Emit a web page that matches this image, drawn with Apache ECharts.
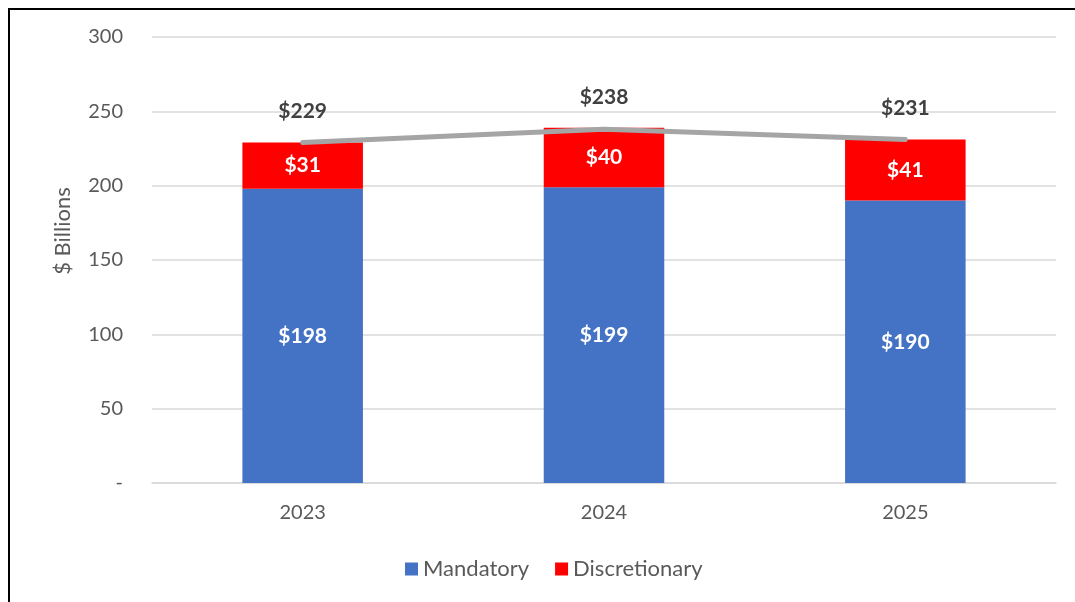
<!DOCTYPE html>
<html>
<head>
<meta charset="utf-8">
<script src="https://cdn.jsdelivr.net/npm/echarts@6/dist/echarts.min.js"></script>
<style>
  html, body { margin: 0; padding: 0; background: #fff; }
  #chart { width: 1075px; height: 602px; }
</style>
</head>
<body>
<div id="chart"></div>
<script>
var years = ["2023", "2024", "2025"];
var mandatory = [198, 199, 190];
var discretionary = [31, 40, 41];
var totals = [229, 238, 231];

var textGray = "#595959";
var font = "Lato";

var chart = echarts.init(document.getElementById("chart"));
var option = {
  animation: false,
  textStyle: { fontFamily: font },
  grid: { left: 152, right: 19, top: 37, bottom: 119 },
  legend: {
    bottom: 17,
    left: 400,
    itemWidth: 13,
    itemHeight: 13,
    itemGap: 26,
    icon: "rect",
    textStyle: { fontSize: 22, color: textGray, fontFamily: font },
    data: ["Mandatory", "Discretionary"]
  },
  xAxis: {
    type: "category",
    data: years,
    axisTick: { show: false },
    axisLine: { lineStyle: { color: "#D9D9D9", width: 1.5 } },
    axisLabel: { fontSize: 20, color: textGray, margin: 20 }
  },
  yAxis: {
    type: "value",
    min: 0,
    max: 300,
    interval: 50,
    name: "$ Billions",
    nameLocation: "middle",
    nameGap: 78,
    nameTextStyle: { fontSize: 22, color: textGray, padding: [0, 0, 0, 58] },
    axisLine: { show: false },
    axisTick: { show: false },
    axisLabel: {
      fontSize: 20,
      color: textGray,
      margin: 29,
      formatter: function (v) { return v === 0 ? "-" : v; }
    },
    splitLine: { lineStyle: { color: "#D9D9D9", width: 1.5 } }
  },
  series: [
    {
      name: "Mandatory",
      type: "bar",
      stack: "total",
      barWidth: "40%",
      data: mandatory,
      itemStyle: { color: "#4472C4" },
      label: {
        show: true,
        position: "inside",
        color: "#fff",
        fontSize: 21,
        fontWeight: "bold",
        formatter: function (p) { return "$" + p.value; }
      }
    },
    {
      name: "Discretionary",
      type: "bar",
      stack: "total",
      barWidth: "40%",
      data: discretionary,
      itemStyle: { color: "#FF0000" },
      label: {
        show: true,
        position: "inside",
        color: "#fff",
        fontSize: 21,
        fontWeight: "bold",
        formatter: function (p) { return "$" + p.value; }
      }
    },
    {
      name: "Total",
      type: "line",
      data: totals,
      symbol: "circle",
      symbolSize: 2,
      showSymbol: true,
      itemStyle: { color: "#A5A5A5" },
      z: 5,
      lineStyle: { color: "#A5A5A5", width: 5, cap: "round" },
      label: {
        show: true,
        position: "top",
        distance: 20,
        color: "#404040",
        fontSize: 21,
        fontWeight: "bold",
        formatter: function (p) { return "$" + p.value; }
      }
    }
  ],
  graphic: [
    {
      type: "polyline",
      shape: { points: [[9, 602], [9, 9], [1075, 9]] },
      style: { stroke: "#000", lineWidth: 2, fill: null },
      silent: true
    }
  ]
};
chart.setOption(option);
</script>
</body>
</html>
